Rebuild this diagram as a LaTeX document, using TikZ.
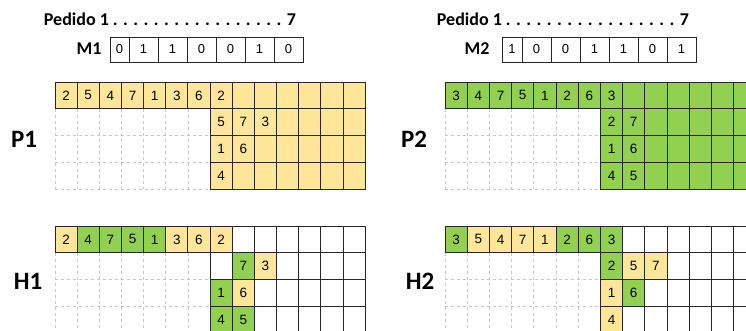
\documentclass[tikz,border=0pt]{standalone}
\usepackage{fontspec}
\setmainfont{Carlito}
\newfontfamily\digitfont{Liberation Sans}
\usetikzlibrary{positioning}
\definecolor{cellyellow}{HTML}{FFE699}
\definecolor{cellgreen}{HTML}{92D050}
\definecolor{gridline}{HTML}{262626}

\begin{document}
\begin{tikzpicture}[
  x=1pt, y=-1pt,
  cell/.style={rectangle, draw=gridline, line width=0.9pt, minimum width=22.15pt, minimum height=26.8pt,
    inner sep=0pt, outer sep=0pt, anchor=north west, font=\digitfont\fontsize{13.5}{13.5}\selectfont},
  ycell/.style={cell, fill=cellyellow},
  gcell/.style={cell, fill=cellgreen},
  wcell/.style={cell, fill=white},
  bit/.style={rectangle, draw=gridline, line width=0.8pt, minimum width=29pt, minimum height=25pt,
    inner sep=0pt, outer sep=0pt, anchor=north west, font=\digitfont\fontsize{13}{13}\selectfont},
  title/.style={font=\bfseries\fontsize{18}{18}\selectfont},
  tag/.style={font=\bfseries\fontsize{25}{25}\selectfont},
  ghost/.style={draw=gray!45, dashed, line width=0.7pt}
  ]
  \useasboundingbox (0,0) rectangle (746,331);
  \clip (0,0) rectangle (746,331);

  % Left half: order M1, parent P1, child H1
  \node[title] (ped1) at (170,19) {Pedido 1 . . . . . . . . . . . . . . . . . 7};
  \node[title] (m1lbl) at (89,49) {M1};
  \node[bit, minimum width=19pt] (m1-0) at (110,37) {0};
  \foreach \i/\v in {1/1,2/1,3/0,4/0,5/1,6/0}
    \node[bit] (m1-\i) at (129+\i*29-29,37) {\v};

  \node[tag] (p1lbl) at (24,139) {P1};
  \begin{scope}[shift={(55,82)}]
    \foreach \r in {2,3,4} \draw[ghost] (0,\r*26.8) -- (7*22.15,\r*26.8);
    \foreach \c in {0,...,6} \draw[ghost] (\c*22.15,26.8) -- (\c*22.15,4*26.8);
    \foreach \c in {0,...,13} \node[ycell] (p1-0-\c) at (\c*22.15,0) {};
    \foreach \r in {1,2,3} \foreach \c in {7,...,13}
      \node[ycell] (p1-\r-\c) at (\c*22.15,\r*26.8) {};
    \foreach \r/\c/\v in {0/0/2,0/1/5,0/2/4,0/3/7,0/4/1,0/5/3,0/6/6,0/7/2,
        1/7/5,1/8/7,1/9/3,2/7/1,2/8/6,3/7/4}
      \node[ycell] (p1n-\r-\c) at (\c*22.15,\r*26.8) {\v};
  \end{scope}

  \node[tag] (h1lbl) at (28,281) {H1};
  \begin{scope}[shift={(55,226)}]
    \foreach \r in {2,3,4} \draw[ghost] (0,\r*26.8) -- (7*22.15,\r*26.8);
    \foreach \c in {0,...,6} \draw[ghost] (\c*22.15,26.8) -- (\c*22.15,4*26.8);
    \foreach \c in {0,...,13} \node[wcell] (h1-0-\c) at (\c*22.15,0) {};
    \foreach \r in {1,2,3} \foreach \c in {7,...,13}
      \node[wcell] (h1-\r-\c) at (\c*22.15,\r*26.8) {};
    \foreach \r/\c/\s/\v in {0/0/ycell/2,0/1/gcell/4,0/2/gcell/7,0/3/gcell/5,0/4/gcell/1,
        0/5/ycell/3,0/6/ycell/6,0/7/ycell/2,1/8/gcell/7,1/9/ycell/3,
        2/7/gcell/1,2/8/ycell/6,3/7/gcell/4,3/8/gcell/5}
      \node[\s] (h1n-\r-\c) at (\c*22.15,\r*26.8) {\v};
  \end{scope}

  % Right half: order M2, parent P2, child H2
  \node[title] (ped2) at (563,19) {Pedido 1 . . . . . . . . . . . . . . . . . 7};
  \node[title] (m2lbl) at (477,49) {M2};
  \node[bit, minimum width=20pt] (m2-0) at (502,37) {1};
  \foreach \i/\v in {1/0,2/0,3/1,4/1,5/0,6/1}
    \node[bit] (m2-\i) at (522+\i*29-29,37) {\v};

  \node[tag] (p2lbl) at (414,139) {P2};
  \begin{scope}[shift={(445,82)}]
    \foreach \r in {2,3,4} \draw[ghost] (0,\r*26.8) -- (7*22.2,\r*26.8);
    \foreach \c in {0,...,6} \draw[ghost] (\c*22.2,26.8) -- (\c*22.2,4*26.8);
    \foreach \c in {0,...,13} \node[gcell, minimum width=22.2pt] (p2-0-\c) at (\c*22.2,0) {};
    \foreach \r in {1,2,3} \foreach \c in {7,...,13}
      \node[gcell, minimum width=22.2pt] (p2-\r-\c) at (\c*22.2,\r*26.8) {};
    \foreach \r/\c/\v in {0/0/3,0/1/4,0/2/7,0/3/5,0/4/1,0/5/2,0/6/6,0/7/3,
        1/7/2,1/8/7,2/7/1,2/8/6,3/7/4,3/8/5}
      \node[gcell, minimum width=22.2pt] (p2n-\r-\c) at (\c*22.2,\r*26.8) {\v};
  \end{scope}

  \node[tag] (h2lbl) at (420,281) {H2};
  \begin{scope}[shift={(445,226)}]
    \foreach \r in {2,3,4} \draw[ghost] (0,\r*26.8) -- (7*22.2,\r*26.8);
    \foreach \c in {0,...,6} \draw[ghost] (\c*22.2,26.8) -- (\c*22.2,4*26.8);
    \foreach \c in {0,...,13} \node[wcell, minimum width=22.2pt] (h2-0-\c) at (\c*22.2,0) {};
    \foreach \r in {1,2,3} \foreach \c in {7,...,13}
      \node[wcell, minimum width=22.2pt] (h2-\r-\c) at (\c*22.2,\r*26.8) {};
    \foreach \r/\c/\s/\v in {0/0/gcell/3,0/1/ycell/5,0/2/ycell/4,0/3/ycell/7,0/4/ycell/1,
        0/5/gcell/2,0/6/gcell/6,0/7/gcell/3,1/7/gcell/2,1/8/ycell/5,1/9/ycell/7,
        2/7/ycell/1,2/8/gcell/6,3/7/ycell/4}
      \node[\s, minimum width=22.2pt] (h2n-\r-\c) at (\c*22.2,\r*26.8) {\v};
  \end{scope}
\end{tikzpicture}
\end{document}
